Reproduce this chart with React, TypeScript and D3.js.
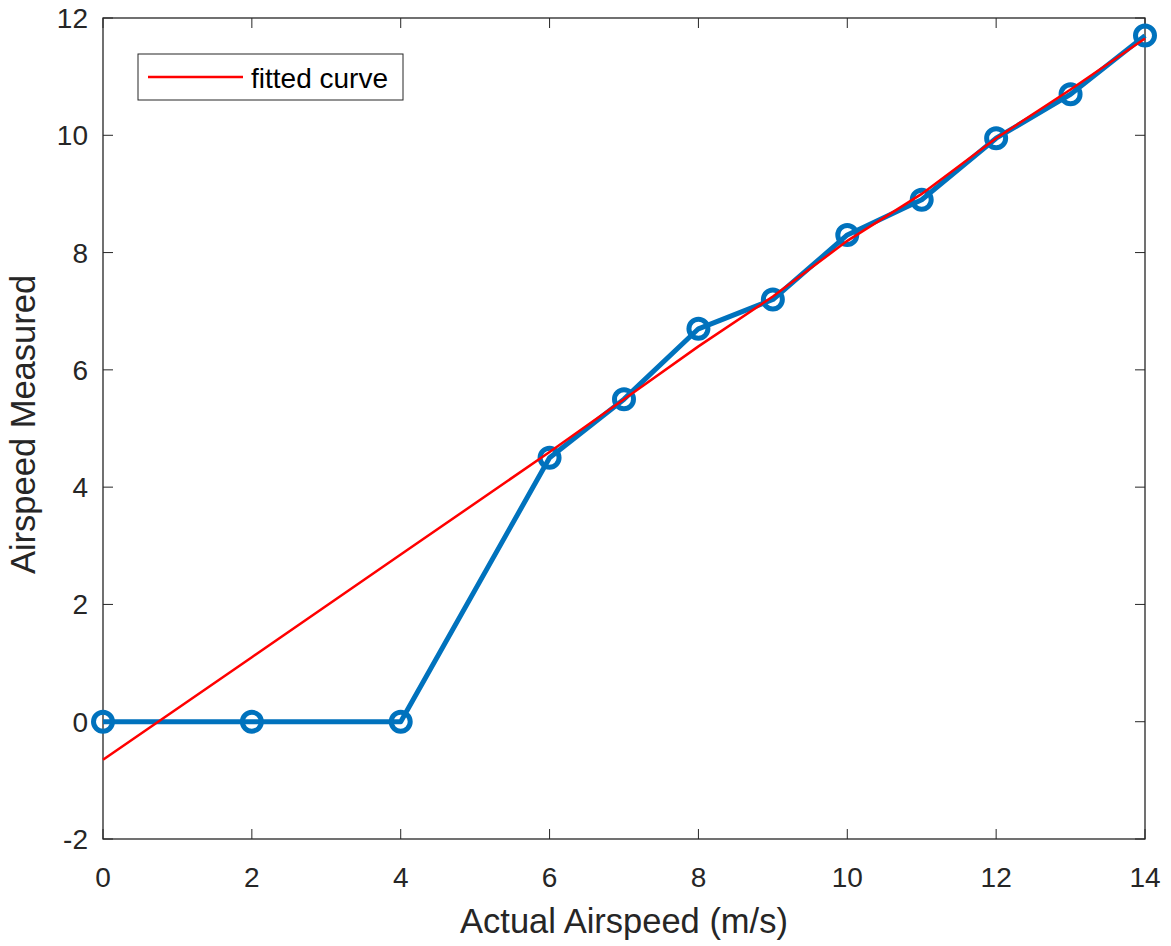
import React from "react";
import * as d3 from "d3";

const actualSpeed = [0, 2, 4, 6, 7, 8, 9, 10, 11, 12, 13, 14];
const measuredSpeed = [0, 0, 0, 4.5, 5.5, 6.7, 7.2, 8.3, 8.9, 9.95, 10.7, 11.7];
const fittedX = [0, 2, 4, 6, 7, 8, 9, 10, 11, 12, 13, 14];
const fittedY = [-0.65, 1.1, 2.85, 4.6, 5.5, 6.4, 7.25, 8.2, 9.0, 9.95, 10.78, 11.65];
const xTicks = [0, 2, 4, 6, 8, 10, 12, 14];
const yTicks = [-2, 0, 2, 4, 6, 8, 10, 12];

const W = 1171;
const H = 946;
const L = 103, R = 1145, T = 18, B = 839;
const FONT = "'Liberation Sans', Arial, Helvetica, sans-serif";
const AX = "#262626";

export default function App() {
  const x = d3.scaleLinear().domain([0, 14]).range([L, R]);
  const y = d3.scaleLinear().domain([-2, 12]).range([B, T]);
  const line = d3.line<[number, number]>().x(d => x(d[0])).y(d => y(d[1]));
  const blueData: [number, number][] = actualSpeed.map((v, i) => [v, measuredSpeed[i]]);
  const redData: [number, number][] = fittedX.map((v, i) => [v, fittedY[i]]);
  const tick = 10;
  return (
    <svg width={W} height={H} style={{ position: "absolute", left: 0, top: 0, background: "#fff" }}>
      <rect x={0} y={0} width={W} height={H} fill="#fff" />
      {xTicks.map(t => (
        <g key={"x" + t}>
          <line x1={x(t)} x2={x(t)} y1={B} y2={B - tick} stroke={AX} strokeWidth={1} />
          <line x1={x(t)} x2={x(t)} y1={T} y2={T + tick} stroke={AX} strokeWidth={1} />
          <text x={x(t)} y={887} textAnchor="middle" fontFamily={FONT} fontSize={28} fill={AX}>{t}</text>
        </g>
      ))}
      {yTicks.map(t => (
        <g key={"y" + t}>
          <line x1={L} x2={L + tick} y1={y(t)} y2={y(t)} stroke={AX} strokeWidth={1} />
          <line x1={R} x2={R - tick} y1={y(t)} y2={y(t)} stroke={AX} strokeWidth={1} />
          <text x={L - 15} y={y(t) + 10} textAnchor="end" fontFamily={FONT} fontSize={28} fill={AX}>{t}</text>
        </g>
      ))}
      <rect x={L} y={T} width={R - L} height={B - T} fill="none" stroke={AX} strokeWidth={1.3} />
      <path d={line(blueData) || ""} fill="none" stroke="#0072BD" strokeWidth={5} strokeLinejoin="round" />
      {blueData.map((d, i) => (
        <circle key={i} cx={x(d[0])} cy={y(d[1])} r={9.5} fill="none" stroke="#0072BD" strokeWidth={5} />
      ))}
      <path d={line(redData) || ""} fill="none" stroke="#FF0000" strokeWidth={2.5} />
      <rect x={138} y={54} width={265} height={46} fill="#fff" stroke={AX} strokeWidth={1} />
      <line x1={148} x2={243} y1={77} y2={77} stroke="#FF0000" strokeWidth={2.5} />
      <text x={251} y={88} fontFamily={FONT} fontSize={28} fill="#000">fitted curve</text>
      <text x={(L + R) / 2} y={933} textAnchor="middle" fontFamily={FONT} fontSize={34.5} fill={AX}>Actual Airspeed (m/s)</text>
      <text transform={`translate(35, ${(T + B) / 2 - 4}) rotate(-90)`} textAnchor="middle" fontFamily={FONT} fontSize={34.5} fill={AX}>Airspeed Measured</text>
    </svg>
  );
}
